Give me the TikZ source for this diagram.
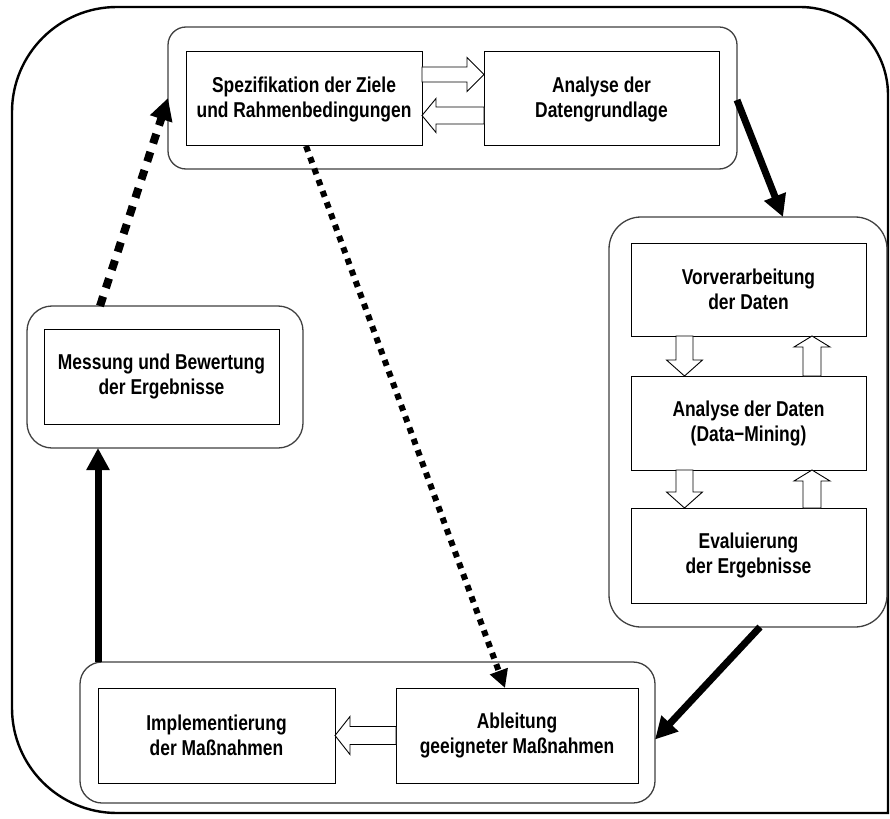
\documentclass[tikz,border=0pt]{standalone}
\usepackage{fontspec}
\setmainfont{Liberation Sans}[FakeStretch=0.81]
\usetikzlibrary{calc,arrows.meta}
\begin{document}
\begin{tikzpicture}[x=1pt,y=-1pt,
  box/.style={draw=black,line width=1pt,inner sep=0pt,outer sep=0pt,align=center,
    font=\fontsize{21.5}{25}\selectfont\bfseries},
  grp/.style={draw=black!75,line width=1.3pt,inner sep=0pt,outer sep=0pt},
  frame/.style={draw=black,line width=2.4pt},
  hollow/.style={draw=black,fill=white,line width=0.9pt,line join=miter},
  thick arrow/.style={line width=7pt,-{Triangle[length=22pt,width=22pt]}},
  dash arrow/.style={line width=8pt,dash pattern=on 10pt off 9pt,-{Triangle[length=22pt,width=22pt]}},
  dot arrow/.style={line width=6pt,dash pattern=on 6pt off 6pt,-{Triangle[length=18pt,width=18pt]}}
]
\useasboundingbox (0,0) rectangle (890,818);
\fill[white] (0,0) rectangle (890,818);
% outer frame
\draw[frame] (888,500) [rounded corners=88pt] -- (888,7) [rounded corners=105pt] -- (12,7) -- (12,813) [sharp corners] -- (888,813) -- cycle;

% groups
\node[grp,rounded corners=18pt,minimum width=569,minimum height=142] (topgrp) at (452.5,98) {};
\node[grp,rounded corners=32pt,minimum width=278,minimum height=410] (rightgrp) at (748,422) {};
\node[grp,rounded corners=25pt,minimum width=276,minimum height=142] (messgrp) at (165,377) {};
\node[grp,rounded corners=22pt,minimum width=575,minimum height=141] (botgrp) at (367.5,732.5) {};

% boxes
\node[box,minimum width=236,minimum height=94] (spez) at (304,99) {Spezifikation der Ziele\\und Rahmenbedingungen};
\node[box,minimum width=235,minimum height=94] (ana) at (601.5,99) {Analyse der\\Datengrundlage};
\node[box,minimum width=235,minimum height=93] (vor) at (748.5,289.5) {Vorverarbeitung\\der Daten};
\node[box,minimum width=235,minimum height=94] (dm) at (748.5,423) {Analyse der Daten\\(Data−Mining)};
\node[box,minimum width=235,minimum height=95] (eva) at (748.5,555.5) {Evaluierung\\der Ergebnisse};
\node[box,minimum width=235,minimum height=95] (mess) at (161.5,376.5) {Messung und Bewertung\\der Ergebnisse};
\node[box,minimum width=237,minimum height=95] (impl) at (216.5,735.5) {Implementierung\\der Maßnahmen};
\node[box,minimum width=242,minimum height=95] (abl) at (517,735.5) {Ableitung\\geeigneter Maßnahmen};

% hollow arrows top
\coordinate (r1) at ($(spez.east)+(0,-24.5)$);
\draw[hollow] (r1) ++(0,-7.5) -- ++(45,0) -- ++(0,-9.5) -- ++(17,17) -- ++(-17,17) -- ++(0,-9.5) -- ++(-45,0) -- cycle;
\coordinate (l1) at ($(spez.east)+(0,16.5)$);
\draw[hollow] (l1) -- ++(14,-17) -- ++(0,8.5) -- ++(48,0) -- ++(0,17) -- ++(-48,0) -- ++(0,8.5) -- cycle;

% hollow arrows right group
\coordinate (d1) at ($(vor.south)+(-64,0)$);
\draw[hollow] (d1) ++(-8.5,0) -- ++(0,24) -- ++(-9.5,0) -- ++(18,16) -- ++(18,-16) -- ++(-9.5,0) -- ++(0,-24) -- cycle;
\coordinate (u1) at ($(vor.south)+(63.5,0)$);
\draw[hollow] (u1) -- ++(18,11) -- ++(-9,0) -- ++(0,29) -- ++(-18,0) -- ++(0,-29) -- ++(-9,0) -- cycle;
\coordinate (d2) at ($(dm.south)+(-64,0)$);
\draw[hollow] (d2) ++(-8.5,0) -- ++(0,22) -- ++(-9.5,0) -- ++(18,16) -- ++(18,-16) -- ++(-9.5,0) -- ++(0,-22) -- cycle;
\coordinate (u2) at ($(dm.south)+(63.5,0)$);
\draw[hollow] (u2) -- ++(18,11) -- ++(-9,0) -- ++(0,27) -- ++(-18,0) -- ++(0,-27) -- ++(-9,0) -- cycle;

% hollow arrow bottom
\coordinate (b1) at (impl.east);
\draw[hollow] (b1) -- ++(15,-19) -- ++(0,10) -- ++(46,0) -- ++(0,18) -- ++(-46,0) -- ++(0,10) -- cycle;

% thick arrows
\coordinate (t1) at ($(topgrp.east)+(0,2)$);
\coordinate (t2) at ($(rightgrp.north)+(35,0)$);
\draw[thick arrow] (t1) -- (t2);
\coordinate (t3) at ($(rightgrp.south)+(12,0)$);
\coordinate (t4) at ($(botgrp.east)+(0,7)$);
\draw[thick arrow] (t3) -- (t4);
\draw[thick arrow] (impl.west |- botgrp.north) -- (impl.west |- messgrp.south);
\coordinate (m1) at ($(messgrp.north)+(-65,0)$);
\draw[dash arrow] (m1) -- (topgrp.west);
\coordinate (s1) at ($(spez.south)+(2,0)$);
\coordinate (a1) at ($(abl.north)+(-12,0)$);
\draw[dot arrow] (s1) -- (a1);
\end{tikzpicture}
\end{document}
